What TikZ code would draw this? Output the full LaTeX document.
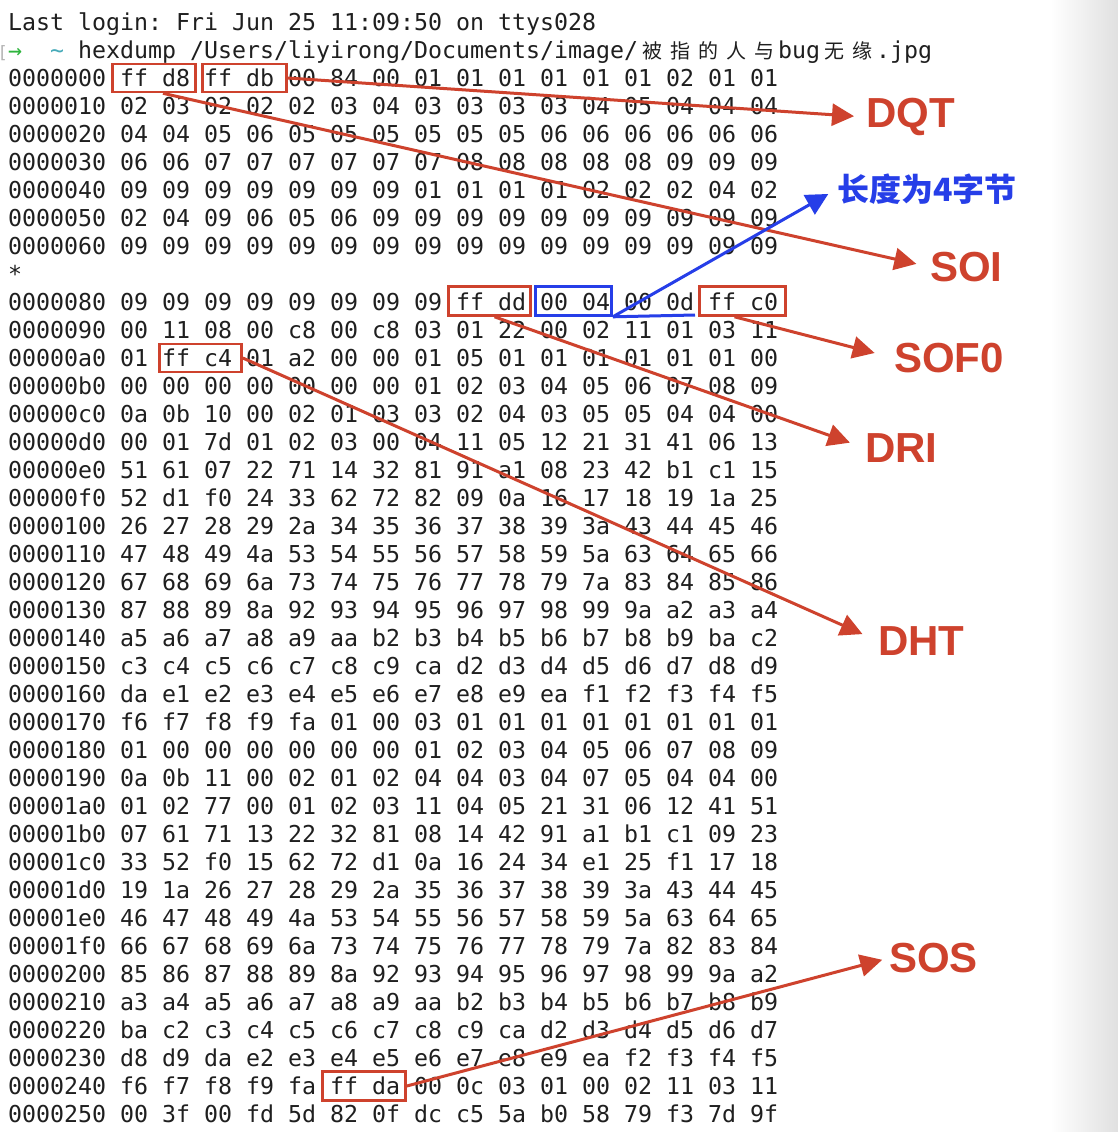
\documentclass[tikz,border=0pt]{standalone}
\usepackage{fontspec}
\usepackage{tikz}
\usetikzlibrary{arrows.meta}
\setmonofont{DejaVu Sans Mono}
\newfontfamily\tagfont{Liberation Sans}
\newfontfamily\cjk{Noto Sans CJK SC}
\definecolor{annred}{RGB}{206,66,45}
\definecolor{annblue}{RGB}{38,62,232}
\definecolor{promptgreen}{RGB}{45,180,60}
\definecolor{prompttilde}{RGB}{70,170,185}
\newcommand{\hz}[1]{\makebox[28pt]{\cjk\fontsize{20}{24}\selectfont #1}}

\begin{document}
\begin{tikzpicture}[x=1pt,y=-1pt,>={Triangle[length=22pt,width=22pt]},
		term/.style={anchor=base west,inner sep=0pt,text=black!88,font=\ttfamily\fontsize{23.25}{28}\selectfont},
		hexbox/.style={rectangle,draw=annred,line width=2.6pt,inner sep=0pt,minimum width=83pt,minimum height=28pt},
		tagtext/.style={anchor=west,inner sep=0pt,text=annred,font=\tagfont\bfseries\fontsize{42}{42}\selectfont},
		redarrow/.style={color=annred,line width=3pt}]
		\useasboundingbox (0,0) rectangle (1118,1132);
		\fill[white] (0,0) rectangle (1118,1132);
		\shade[left color=white,right color=black!12] (1050,0) rectangle (1118,1132);
		
		% terminal output
		\node[term] (login) at (8,30.5)   {Last login: Fri Jun 25 11:09:50 on ttys028};
		\node[term] (cmd)   at (0,58.5)   {\makebox[8pt][l]{\hspace{-2.5pt}\color{black!30}\fontsize{17}{28}\selectfont[}{\color{promptgreen}→}\ \ {\color{prompttilde}\textasciitilde}\ hexdump /Users/liyirong/Documents/image/\hz{被}\hz{指}\hz{的}\hz{人}\hz{与}bug\hz{无}\hz{缘}.jpg};
		\node[term] (o000)  at (8,86.5)   {0000000 ff d8 ff db 00 84 00 01 01 01 01 01 01 02 01 01};
		\node[term] (o010)  at (8,114.5)  {0000010 02 03 02 02 02 03 04 03 03 03 03 04 05 04 04 04};
		\node[term] (o020)  at (8,142.5)  {0000020 04 04 05 06 05 05 05 05 05 05 06 06 06 06 06 06};
		\node[term] (o030)  at (8,170.5)  {0000030 06 06 07 07 07 07 07 07 08 08 08 08 08 09 09 09};
		\node[term] (o040)  at (8,198.5)  {0000040 09 09 09 09 09 09 09 01 01 01 01 02 02 02 04 02};
		\node[term] (o050)  at (8,226.5)  {0000050 02 04 09 06 05 06 09 09 09 09 09 09 09 09 09 09};
		\node[term] (o060)  at (8,254.5)  {0000060 09 09 09 09 09 09 09 09 09 09 09 09 09 09 09 09};
		\node[term] (star)  at (8,282.5)  {*};
		\node[term] (o080)  at (8,310.5)  {0000080 09 09 09 09 09 09 09 09 ff dd 00 04 00 0d ff c0};
		\node[term] (o090)  at (8,338.5)  {0000090 00 11 08 00 c8 00 c8 03 01 22 00 02 11 01 03 11};
		\node[term] (o0a0)  at (8,366.5)  {00000a0 01 ff c4 01 a2 00 00 01 05 01 01 01 01 01 01 00};
		\node[term] (o0b0)  at (8,394.5)  {00000b0 00 00 00 00 00 00 00 01 02 03 04 05 06 07 08 09};
		\node[term] (o0c0)  at (8,422.5)  {00000c0 0a 0b 10 00 02 01 03 03 02 04 03 05 05 04 04 00};
		\node[term] (o0d0)  at (8,450.5)  {00000d0 00 01 7d 01 02 03 00 04 11 05 12 21 31 41 06 13};
		\node[term] (o0e0)  at (8,478.5)  {00000e0 51 61 07 22 71 14 32 81 91 a1 08 23 42 b1 c1 15};
		\node[term] (o0f0)  at (8,506.5)  {00000f0 52 d1 f0 24 33 62 72 82 09 0a 16 17 18 19 1a 25};
		\node[term] (o100)  at (8,534.5)  {0000100 26 27 28 29 2a 34 35 36 37 38 39 3a 43 44 45 46};
		\node[term] (o110)  at (8,562.5)  {0000110 47 48 49 4a 53 54 55 56 57 58 59 5a 63 64 65 66};
		\node[term] (o120)  at (8,590.5)  {0000120 67 68 69 6a 73 74 75 76 77 78 79 7a 83 84 85 86};
		\node[term] (o130)  at (8,618.5)  {0000130 87 88 89 8a 92 93 94 95 96 97 98 99 9a a2 a3 a4};
		\node[term] (o140)  at (8,646.5)  {0000140 a5 a6 a7 a8 a9 aa b2 b3 b4 b5 b6 b7 b8 b9 ba c2};
		\node[term] (o150)  at (8,674.5)  {0000150 c3 c4 c5 c6 c7 c8 c9 ca d2 d3 d4 d5 d6 d7 d8 d9};
		\node[term] (o160)  at (8,702.5)  {0000160 da e1 e2 e3 e4 e5 e6 e7 e8 e9 ea f1 f2 f3 f4 f5};
		\node[term] (o170)  at (8,730.5)  {0000170 f6 f7 f8 f9 fa 01 00 03 01 01 01 01 01 01 01 01};
		\node[term] (o180)  at (8,758.5)  {0000180 01 00 00 00 00 00 00 01 02 03 04 05 06 07 08 09};
		\node[term] (o190)  at (8,786.5)  {0000190 0a 0b 11 00 02 01 02 04 04 03 04 07 05 04 04 00};
		\node[term] (o1a0)  at (8,814.5)  {00001a0 01 02 77 00 01 02 03 11 04 05 21 31 06 12 41 51};
		\node[term] (o1b0)  at (8,842.5)  {00001b0 07 61 71 13 22 32 81 08 14 42 91 a1 b1 c1 09 23};
		\node[term] (o1c0)  at (8,870.5)  {00001c0 33 52 f0 15 62 72 d1 0a 16 24 34 e1 25 f1 17 18};
		\node[term] (o1d0)  at (8,898.5)  {00001d0 19 1a 26 27 28 29 2a 35 36 37 38 39 3a 43 44 45};
		\node[term] (o1e0)  at (8,926.5)  {00001e0 46 47 48 49 4a 53 54 55 56 57 58 59 5a 63 64 65};
		\node[term] (o1f0)  at (8,954.5)  {00001f0 66 67 68 69 6a 73 74 75 76 77 78 79 7a 82 83 84};
		\node[term] (o200)  at (8,982.5)  {0000200 85 86 87 88 89 8a 92 93 94 95 96 97 98 99 9a a2};
		\node[term] (o210)  at (8,1010.5) {0000210 a3 a4 a5 a6 a7 a8 a9 aa b2 b3 b4 b5 b6 b7 b8 b9};
		\node[term] (o220)  at (8,1038.5) {0000220 ba c2 c3 c4 c5 c6 c7 c8 c9 ca d2 d3 d4 d5 d6 d7};
		\node[term] (o230)  at (8,1066.5) {0000230 d8 d9 da e2 e3 e4 e5 e6 e7 e8 e9 ea f2 f3 f4 f5};
		\node[term] (o240)  at (8,1094.5) {0000240 f6 f7 f8 f9 fa ff da 00 0c 03 01 00 02 11 03 11};
		\node[term] (o250)  at (8,1122.5) {0000250 00 3f 00 fd 5d 82 0f dc c5 5a b0 58 79 f3 7d 9f};
		
		% markers
		\node[hexbox] (ffd8) at (154,78)    {};
		\node[hexbox,minimum width=84pt] (ffdb) at (244.5,78) {};
		\node[hexbox,minimum height=29pt,minimum width=82pt] (ffdd) at (489.5,301) {};
		\node[hexbox,draw=annblue,minimum height=29pt,minimum width=76pt] (len) at (573.5,301) {};
		\node[hexbox,minimum height=29pt,minimum width=86pt] (ffc0) at (742.5,301) {};
		\node[hexbox,minimum width=82pt] (ffc4) at (200.5,358) {};
		\node[hexbox,minimum height=29pt] (ffda) at (364,1086) {};
		\coordinate (lenend) at (695,315);
		
		\node[tagtext] (dqt) at (866,117) {DQT};
		\node[tagtext] (soi) at (930,267) {SOI};
		\node[tagtext] (sof) at (894,358) {SOF0};
		\node[tagtext] (dri) at (865,448) {DRI};
		\node[tagtext] (dht) at (878,641) {DHT};
		\node[tagtext] (sos) at (889,958) {SOS};
		\node[tagtext,text=annblue,font=\cjk\bfseries\fontsize{32}{32}\selectfont] (lenlabel) at (837,189) {长度为4字节};
		
		\draw[annblue,line width=3pt] (len.south east) -- (lenend);
		\path[->,redarrow]
		(ffdb.east) edge[shorten >=12pt] (dqt.west)
		([xshift=9pt]ffd8.south) edge[shorten >=14pt] (soi.west)
		([xshift=-8pt]ffc0.south) edge[shorten >=20pt] (sof.west)
		([xshift=5pt]ffdd.south) edge[shorten >=16pt] (dri.west)
		(ffc4.east) edge[shorten >=17pt] (dht.west)
		(ffda.east) edge[shorten >=7pt] (sos.west)
		(len.south east) edge[annblue,shorten >=10pt] (lenlabel.west);
\end{tikzpicture}
\end{document}
